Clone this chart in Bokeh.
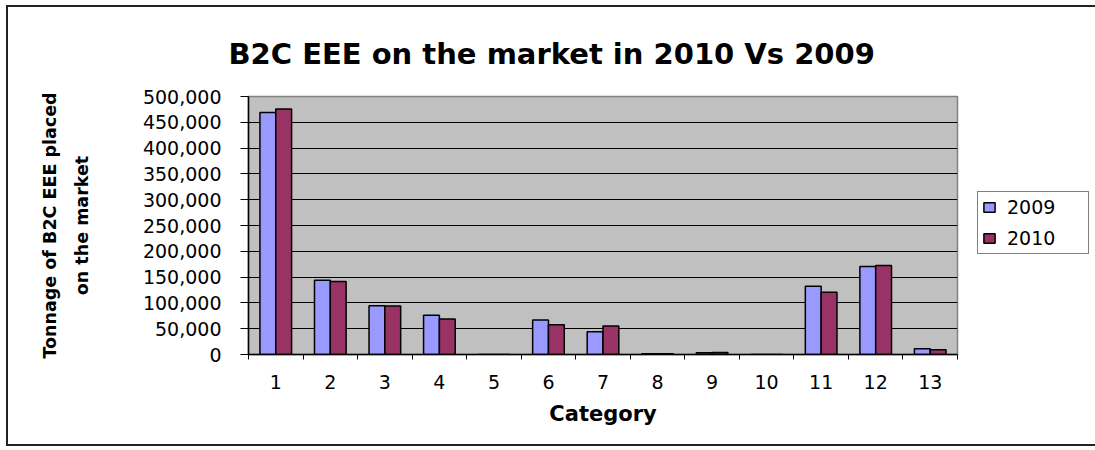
from bokeh.plotting import figure
from bokeh.models import (ColumnDataSource, Range1d, FixedTicker, NumeralTickFormatter,
                          Legend, LegendItem, Title)
from bokeh.transform import dodge
from bokeh.embed import file_html
from bokeh.resources import INLINE

# ---- data ----
categories = [1, 2, 3, 4, 5, 6, 7, 8, 9, 10, 11, 12, 13]
tonnage_2009 = [469000, 144000, 94500, 76000, 0, 67000, 44000, 1500, 3500, 0, 132500, 170500, 11000]
tonnage_2010 = [476000, 141500, 94000, 69000, 0, 57500, 55000, 1500, 4000, 0, 120500, 172500, 9000]
series_names = ["2009", "2010"]
y_ticks = [0, 50000, 100000, 150000, 200000, 250000, 300000, 350000, 400000, 450000, 500000]
title_text = "B2C EEE on the market in 2010 Vs 2009"
x_title = "Category"
y_title = "Tonnage of B2C EEE placed\non the market"

FONT = "DejaVu Sans"

source = ColumnDataSource(dict(cat=categories, y2009=tonnage_2009, y2010=tonnage_2010))

p = figure(frame_width=709, frame_height=258,
           x_range=Range1d(0.5, 13.5), y_range=Range1d(0, 500000),
           output_backend="svg", toolbar_location=None, title=None,
           min_border_left=240, min_border_right=135,
           min_border_top=89, min_border_bottom=90)
p.styles = {"outline": "2px solid #222222", "margin-left": "8px", "margin-top": "7px"}

p.background_fill_color = "#C0C0C0"
p.border_fill_color = "white"
p.outline_line_color = "#808080"
p.outline_line_width = 1.5

r1 = p.vbar(x=dodge("cat", -0.145), top="y2009", width=0.29, source=source,
            fill_color="#9999FF", line_color="black", line_width=1.5)
r2 = p.vbar(x=dodge("cat", 0.145), top="y2010", width=0.29, source=source,
            fill_color="#993366", line_color="black", line_width=1.5)

# axes
xa = p.below[0]
ya = p.left[0]

xa.ticker = FixedTicker(ticks=categories,
                        minor_ticks=[c - 0.5 for c in categories] + [categories[-1] + 0.5])
xa.major_tick_out = 0
xa.major_tick_in = 0
xa.minor_tick_out = 5
xa.minor_tick_in = 0
xa.minor_tick_line_color = "black"
xa.axis_line_color = "black"
xa.axis_line_width = 1.5
xa.major_label_text_font = FONT
xa.major_label_text_font_size = "19px"
xa.major_label_text_color = "black"
xa.major_label_standoff = 15
xa.axis_label = x_title
xa.axis_label_text_font = FONT
xa.axis_label_text_font_size = "21px"
xa.axis_label_text_font_style = "bold"
xa.axis_label_text_color = "black"
xa.axis_label_standoff = 10

ya.ticker = FixedTicker(ticks=y_ticks)
ya.formatter = NumeralTickFormatter(format="0,0")
ya.major_tick_out = 8
ya.major_tick_in = 0
ya.minor_tick_line_color = None
ya.axis_line_color = "black"
ya.axis_line_width = 1.5
ya.major_tick_line_color = "black"
ya.major_label_text_font = FONT
ya.major_label_text_font_size = "19px"
ya.major_label_text_color = "black"
ya.major_label_standoff = 19
ya.axis_label = y_title
ya.axis_label_text_font = FONT
ya.axis_label_text_font_size = "17.5px"
ya.axis_label_text_font_style = "bold"
ya.axis_label_text_color = "black"
ya.axis_label_text_line_height = 1.6
ya.axis_label_standoff = 48

p.xgrid.grid_line_color = None
p.ygrid.ticker = FixedTicker(ticks=y_ticks[1:-1])
p.ygrid.grid_line_color = "black"
p.ygrid.grid_line_width = 1

# title
title = Title(text=title_text, align="left", vertical_align="bottom",
              text_font=FONT, text_font_size="29px", text_font_style="bold",
              text_color="black", standoff=52, offset=-20)
p.add_layout(title, "above")

legend = Legend(items=[LegendItem(label=series_names[0], renderers=[r1]),
                       LegendItem(label=series_names[1], renderers=[r2])],
                location=(20, 100))
legend.border_line_color = "black"
legend.border_line_width = 1
legend.background_fill_color = "white"
legend.background_fill_alpha = 1.0
legend.label_text_font = FONT
legend.label_text_font_size = "19px"
legend.label_text_color = "black"
legend.glyph_width = 14
legend.glyph_height = 12
legend.label_height = 20
legend.label_width = 77
legend.label_standoff = 11
legend.spacing = 9
legend.padding = 4
legend.margin = 0
p.add_layout(legend, "right")

open("out.html", "w").write(file_html(p, INLINE))
